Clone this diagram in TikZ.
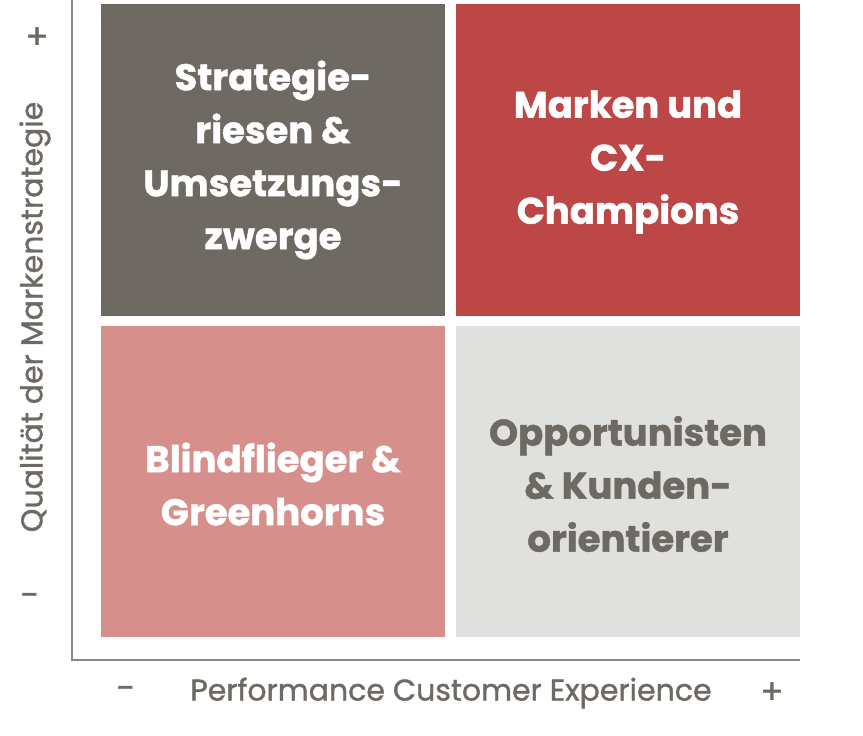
\documentclass[tikz,border=0pt]{standalone}
\usepackage{fontspec}
\setmainfont{Poppins}[FakeBold=1.2]
\definecolor{dg}{HTML}{6E6A63}
\definecolor{rd}{HTML}{BC4746}
\definecolor{pk}{HTML}{D68F8B}
\definecolor{lg}{HTML}{E0E0DF}
\definecolor{ax}{HTML}{8A8782}
\tikzset{quad/.style={minimum width=344pt,minimum height=312pt,inner sep=0,outer sep=0},
qtext/.style={align=center,font=\bfseries\fontsize{37}{53}\selectfont},
lab/.style={text=dg,font=\fontsize{30}{32}\selectfont}}
\begin{document}
\begin{tikzpicture}[x=1pt,y=-1pt]
\useasboundingbox (0,0) rectangle (863,736);
\node[quad,fill=dg,anchor=north west] (a) at (101,4) {};
\node[quad,fill=rd,anchor=north west] (b) at (456,4) {};
\node[quad,fill=pk,anchor=north west,minimum height=311pt] (c) at (101,326) {};
\node[quad,fill=lg,anchor=north west,minimum height=311pt] (d) at (456,326) {};
\node[qtext,text=white] (ta) at (273,160) {Strategie-\\riesen \&\\Umsetzungs-\\zwerge};
\node[qtext,text=white] (tb) at (628,162) {Marken und\\CX-\\Champions};
\node[qtext,text=white] (tc) at (273,484) {Blindflieger \&\\Greenhorns};
\node[qtext,text=dg] (td) at (628,484) {Opportunisten\\\& Kunden-\\orientierer};
\coordinate (o) at (72,660);
\coordinate (t) at (72,0);
\coordinate (r) at (800,660);
\draw[ax,line width=1.5pt] (t) -- (o) -- (r);
\node[lab,font=\fontsize{34}{34}\selectfont] (yp) at (37,38) {+};
\node[lab,font=\fontsize{34}{34}\selectfont] (ym) at (30,600) {-};
\node[lab,rotate=90] (yl) at (35,317) {Qualität der Markenstrategie};
\node[lab,font=\fontsize{34}{34}\selectfont] (xm) at (126,693) {-};
\node[lab] (xl) at (451,693) {Performance Customer Experience};
\node[lab,font=\fontsize{34}{34}\selectfont] (xp) at (772,693) {+};
\end{tikzpicture}
\end{document}
